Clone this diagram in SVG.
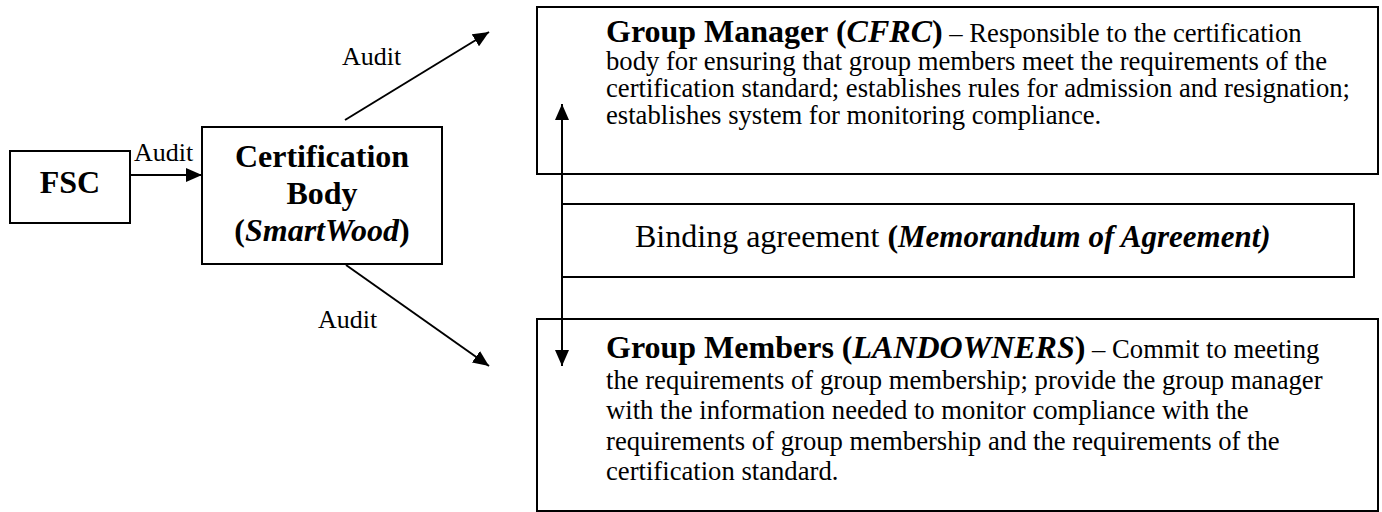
<svg xmlns="http://www.w3.org/2000/svg" width="1382" height="512" viewBox="0 0 1382 512">
<defs>
<style>
.box{fill:#fff;stroke:#000;stroke-width:2}
.t{font-family:"Liberation Serif","Times New Roman",serif;fill:#000}
.b{font-weight:bold}
.i{font-style:italic}
.bi{font-weight:bold;font-style:italic}
.body{font-size:26.67px}
.big{font-size:32px}
.lbl{font-size:26px}
.conn{stroke:#000;stroke-width:2;fill:none}
</style>
<marker id="ah" viewBox="0 0 16 14" refX="16" refY="7" markerWidth="16" markerHeight="14" markerUnits="userSpaceOnUse" orient="auto-start-reverse"><path d="M0,0 L16,7 L0,14 Z" fill="#000"/></marker>
</defs>
<rect width="1382" height="512" fill="#fff"/>

<g id="fsc">
<rect class="box" x="10" y="151" width="120" height="72"/>
<text class="t b big" x="70" y="193" text-anchor="middle">FSC</text>
</g>

<g id="cert-body">
<rect class="box" x="202" y="127" width="240" height="137"/>
<text class="t b big" text-anchor="middle"><tspan x="322" y="167">Certification</tspan><tspan x="322" y="204">Body</tspan><tspan x="322" y="241">(<tspan class="bi">SmartWood</tspan>)</tspan></text>
</g>

<g id="group-manager">
<rect class="box" x="537" y="7" width="841" height="167"/>
<text class="t body"><tspan x="606" y="42"><tspan class="b big">Group Manager (</tspan><tspan class="bi big">CFRC</tspan><tspan class="b big">)</tspan> – Responsible to the certification</tspan><tspan x="606" y="70">body for ensuring that group members meet the requirements of the</tspan><tspan x="606" y="97">certification standard; establishes rules for admission and resignation;</tspan><tspan x="606" y="124">establishes system for monitoring compliance.</tspan></text>
</g>

<g id="binding">
<rect class="box" x="562" y="204" width="792" height="73"/>
<text class="t big" x="635" y="247">Binding agreement <tspan class="b">(</tspan><tspan class="bi" font-size="31">Memorandum of Agreement)</tspan></text>
</g>

<g id="group-members">
<rect class="box" x="537" y="319" width="841" height="192"/>
<text class="t body"><tspan x="606" y="358"><tspan class="b big">Group Members (</tspan><tspan class="bi big">LANDOWNERS</tspan><tspan class="b big">)</tspan> – Commit to meeting</tspan><tspan x="606" y="388.5">the requirements of group membership; provide the group manager</tspan><tspan x="606" y="419">with the information needed to monitor compliance with the</tspan><tspan x="606" y="449.5">requirements of group membership and the requirements of the</tspan><tspan x="606" y="480">certification standard.</tspan></text>
</g>

<g id="connectors">
<line class="conn" x1="130" y1="175" x2="202" y2="175" marker-end="url(#ah)"/>
<line class="conn" x1="345" y1="120" x2="489" y2="32" marker-end="url(#ah)"/>
<line class="conn" x1="346" y1="265" x2="489" y2="366" marker-end="url(#ah)"/>
<line class="conn" x1="562" y1="104" x2="562" y2="366" marker-start="url(#ah)" marker-end="url(#ah)"/>
<text class="t lbl" x="134" y="161">Audit</text>
<text class="t lbl" x="342" y="65">Audit</text>
<text class="t lbl" x="318" y="328">Audit</text>
</g>
</svg>
